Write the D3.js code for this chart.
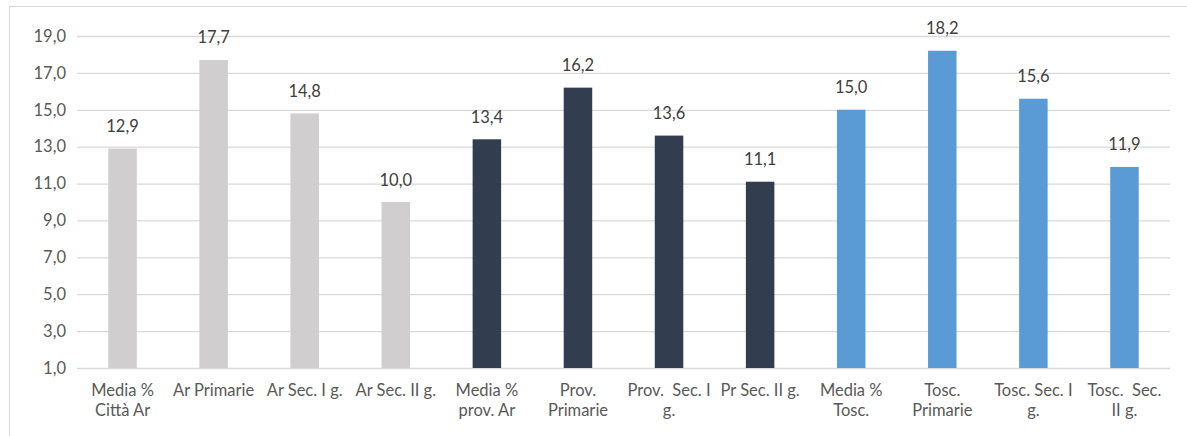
<!DOCTYPE html>
<html>
<head>
<meta charset="utf-8">
<script src="https://cdn.jsdelivr.net/npm/d3@7"></script>
<style>
  html, body { margin: 0; padding: 0; background: #fff; }
  svg { display: block; font-family: Lato, "Open Sans", sans-serif; }
</style>
</head>
<body>
<svg id="chart" width="1187" height="436"></svg>
<script>
// Category labels, pre-wrapped into lines
const categories = [
  ["Media %", "Città Ar"],
  ["Ar Primarie"],
  ["Ar Sec. I g."],
  ["Ar Sec. II g."],
  ["Media %", "prov. Ar"],
  ["Prov.", "Primarie"],
  ["Prov.  Sec. I", "g."],
  ["Pr Sec. II g."],
  ["Media %", "Tosc."],
  ["Tosc.", "Primarie"],
  ["Tosc. Sec. I", "g."],
  ["Tosc.  Sec.", "II g."]
];
const values = [12.9, 17.7, 14.8, 10.0, 13.4, 16.2, 13.6, 11.1, 15.0, 18.2, 15.6, 11.9];
const groups = ["city", "city", "city", "city", "prov", "prov", "prov", "prov", "tosc", "tosc", "tosc", "tosc"];
const yTicks = [1, 3, 5, 7, 9, 11, 13, 15, 17, 19];

const groupColor = { city: "#D0CECE", prov: "#323E4F", tosc: "#5B9BD5" };
const fmt = v => d3.format(".1f")(v).replace(".", ",");

const svg = d3.select("#chart");
const plot = { left: 77, right: 1170, top: 36, bottom: 368 };

// chart frame
svg.append("rect")
  .attr("x", 9.5).attr("y", 6.5)
  .attr("width", 1200).attr("height", 460)
  .attr("fill", "none").attr("stroke", "#D9D9D9").attr("stroke-width", 1);

const idx = d3.range(values.length);
const x = d3.scaleBand().domain(idx).range([plot.left, plot.right])
  .paddingInner(0.687).paddingOuter(0.3435);
const y = d3.scaleLinear().domain([1, 19]).range([plot.bottom, plot.top]);

// gridlines + y labels
const yAxis = d3.axisLeft(y).tickValues(yTicks).tickFormat(fmt)
  .tickSize(-(plot.right - plot.left)).tickPadding(11);
const gy = svg.append("g").attr("transform", `translate(${plot.left},0)`).call(yAxis);
gy.select(".domain").remove();
gy.selectAll(".tick line").attr("stroke", "#D9D9D9").attr("stroke-width", 1.3);
gy.selectAll(".tick text").attr("fill", "#595959").attr("font-size", 16.5)
  .attr("font-family", "Lato, 'Open Sans', sans-serif");

// bars
svg.append("g").selectAll("rect").data(idx).join("rect")
  .attr("x", i => x(i))
  .attr("y", i => y(values[i]))
  .attr("width", x.bandwidth())
  .attr("height", i => y(1) - y(values[i]))
  .attr("fill", i => groupColor[groups[i]]);

// value labels
svg.append("g").selectAll("text").data(idx).join("text")
  .attr("x", i => x(i) + x.bandwidth() / 2)
  .attr("y", i => y(values[i]) - 16.5)
  .attr("text-anchor", "middle")
  .attr("fill", "#404040").attr("font-size", 16.5)
  .text(i => fmt(values[i]));

// category labels
const xl = svg.append("g").selectAll("text").data(idx).join("text")
  .attr("text-anchor", "middle")
  .attr("fill", "#595959").attr("font-size", 16.5)
  .attr("transform", i => `translate(${x(i) + x.bandwidth() / 2},396)`);
xl.selectAll("tspan").data(i => categories[i]).join("tspan")
  .attr("x", 0).attr("dy", (d, j) => j === 0 ? 0 : 20)
  .attr("xml:space", "preserve")
  .style("white-space", "pre")
  .text(d => d);
</script>
</body>
</html>
